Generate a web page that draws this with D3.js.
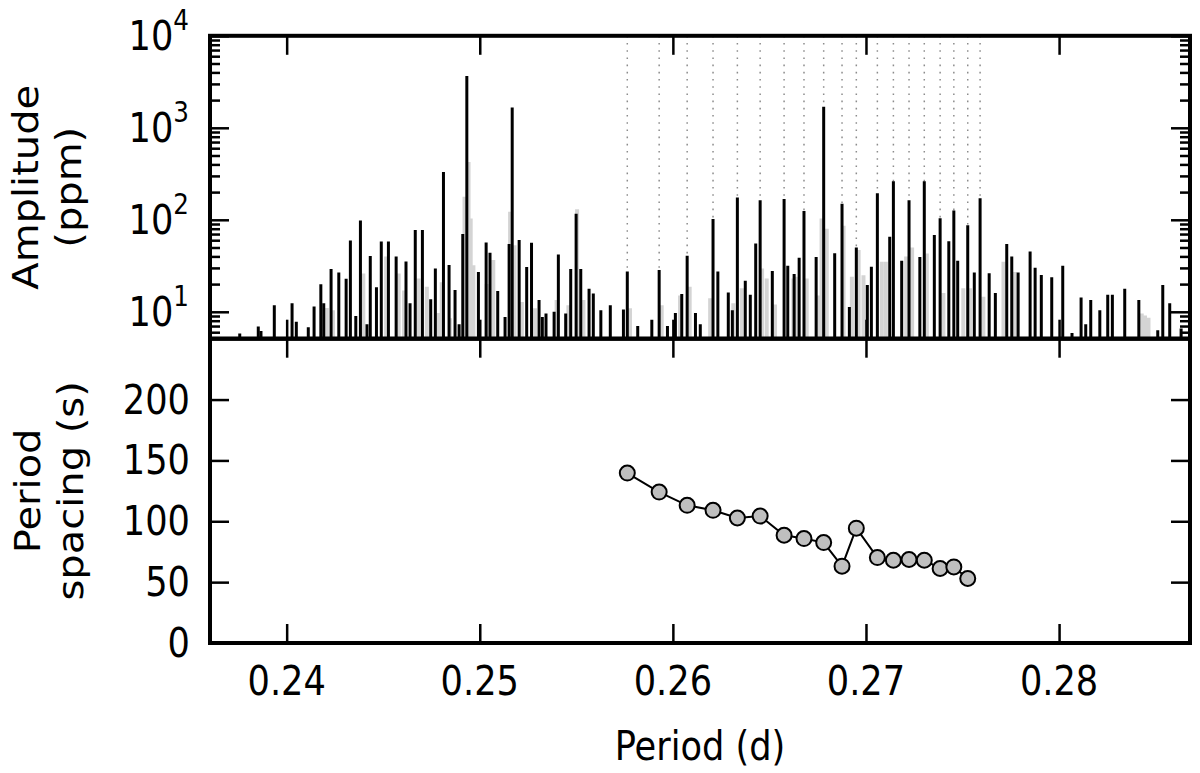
<!DOCTYPE html>
<html lang="en">
<head>
  <meta charset="UTF-8">
  <title>Period spacing pattern</title>
  <script src="https://d3js.org/d3.v7.min.js"></script>
  <style>
    body { margin: 0; background: #ffffff; }
    text { font-family: "DejaVu Sans", sans-serif; fill: #000; }
  </style>
</head>
<body>
  <script>
    // black bars: [period (d), amplitude (ppm)]
    const peakPeriods = [
      0.23757, 0.23853, 0.23867, 0.23936, 0.24028, 0.24050, 0.24112, 0.24142, 0.24177, 0.24192,
      0.24230, 0.24270, 0.24308, 0.24330, 0.24358, 0.24382, 0.24416, 0.24433, 0.24465, 0.24490,
      0.24527, 0.24567, 0.24618, 0.24639, 0.24666, 0.24703, 0.24746, 0.24770, 0.24812, 0.24841,
      0.24872, 0.24893, 0.24912, 0.24933, 0.24993, 0.25033, 0.25053, 0.25093, 0.25131, 0.25152,
      0.25168, 0.25204, 0.25243, 0.25268, 0.25307, 0.25324, 0.25343, 0.25385, 0.25407, 0.25445,
      0.25471, 0.25499, 0.25523, 0.25566, 0.25588, 0.25627, 0.25676, 0.25744, 0.25764, 0.25818,
      0.25891, 0.25929, 0.25972, 0.26013, 0.26046, 0.26074, 0.26117, 0.26142, 0.26208, 0.26233,
      0.26287, 0.26308, 0.26334, 0.26375, 0.26401, 0.26429, 0.26452, 0.26515, 0.26576, 0.26595,
      0.26628, 0.26654, 0.26679, 0.26742, 0.26781, 0.26838, 0.26876, 0.26914, 0.26950, 0.27007,
      0.27028, 0.27059, 0.27123, 0.27142, 0.27185, 0.27223, 0.27279, 0.27302, 0.27354, 0.27384,
      0.27429, 0.27455, 0.27475, 0.27527, 0.27561, 0.27591, 0.27638, 0.27670, 0.27729, 0.27755,
      0.27788, 0.27850, 0.27876, 0.27908, 0.27962, 0.28019, 0.28067, 0.28114, 0.28138, 0.28164,
      0.28211, 0.28252, 0.28276, 0.28340, 0.28413, 0.28511, 0.28537, 0.28573, 0.28632
    ];
    const peakAmps = [
      5.8, 6.9, 6.2, 11.8, 12.4, 7.8, 6.8, 11.4, 19.9, 12.4,
      29.1, 26.8, 22.8, 59.7, 9.0, 98.4, 7.3, 40.3, 18.5, 58.2,
      58.2, 40, 35.3, 12.4, 77.3, 77.3, 13.7, 29.6, 330, 32.2,
      17.3, 7.3, 70, 3650, 27, 56.8, 43.7, 16.8, 8.8, 54.4,
      1667, 60.2, 30.6, 56.2, 13.4, 8.8, 9.6, 10, 42, 9.6,
      29.1, 116, 29.1, 17.8, 15.8, 10.4, 11.8, 10.6, 27.5, 7,
      8.2, 28.4, 7, 9.7, 15.6, 40.6, 9.7, 7.3, 102, 27.5,
      16.2, 10.4, 175, 21.7, 15.3, 55.3, 163, 27.7, 168, 31.6,
      25.7, 38.6, 125, 39.3, 1690, 43.2, 149, 11.3, 50.1, 19.6,
      30.8, 194, 65.3, 263, 35.8, 163, 39.3, 263, 68.2, 104,
      58.6, 126, 35.8, 87, 26.8, 171, 26.3, 16, 54.4, 40,
      26.8, 45.3, 30.1, 25.1, 23.7, 31.6, 5.9, 14.3, 7.3, 13.4,
      10.4, 15.3, 15.3, 17.8, 13.4, 6.3, 19.6, 12.4, 6.6
    ];

    // light grey bars drawn behind
    const greyPeriods = [
      0.24208, 0.24240, 0.24397, 0.24515, 0.24580, 0.24608, 0.24683, 0.24726, 0.24786, 0.24803,
      0.24846, 0.24921, 0.24942, 0.24953, 0.24967, 0.25036, 0.25070, 0.25157, 0.25180, 0.25218,
      0.25286, 0.25398, 0.25459, 0.25504, 0.25537, 0.25778, 0.25942, 0.26037, 0.26087, 0.26193,
      0.26313, 0.26357, 0.26462, 0.26486, 0.26529, 0.26624, 0.26642, 0.26693, 0.26754, 0.26770,
      0.26797, 0.26884, 0.26927, 0.26962, 0.26987, 0.27082, 0.27103, 0.27208, 0.27239, 0.27315,
      0.27401, 0.27504, 0.27539, 0.27608, 0.27712, 0.27772, 0.28428, 0.28445, 0.28463
    ];
    const greyAmps = [
      11, 10.4, 26, 40, 26, 17, 23, 18.7, 9.7, 21,
      8.5, 178, 425, 103, 32, 20, 36.5, 122, 53, 12.8,
      10.9, 13.4, 11.8, 130, 13.4, 10.9, 11.8, 15, 18.7, 14,
      12.4, 18, 29.6, 23, 12, 23, 24, 23, 15, 103.6,
      80, 86, 24, 47, 25, 35, 35, 40, 50, 43,
      16, 18, 18, 14.6, 35, 27, 9.6, 9.1, 8.6
    ];

    // periods of the mode series (dotted lines)
    const modePeriods = [
      0.25764, 0.25929, 0.26074, 0.26208, 0.26334, 0.26452, 0.26576, 0.26679, 0.26781, 0.26876,
      0.26950, 0.27059, 0.27142, 0.27223, 0.27302, 0.27384, 0.27455, 0.27527, 0.27591
    ];
    // period spacing (s), plotted at the first period of each pair
    const spacings = [
      139.6, 124.0, 113.1, 109.0, 102.7, 104.3, 88.5, 85.8, 82.5, 63.1,
      94.3, 70.2, 68.0, 68.6, 68.0, 61.2, 62.5, 53.0
    ];

    const xTicks = [0.24, 0.25, 0.26, 0.27, 0.28];
    const ampTicks = [1, 2, 3, 4];          // exponents of 10
    const spTicks = [0, 50, 100, 150, 200];

    const width = 1200, height = 773;
    const left = 210, right = 1190;
    const top1 = 35.8, mid = 338.7, bottom = 643;
    const sx = 0.88; // the figure is a bit squeezed horizontally

    const svg = d3.select("body").append("svg")
      .attr("width", width)
      .attr("height", height)
      .style("background-color", "#ffffff");

    const x = d3.scaleLinear().domain([0.23603, 0.28678]).range([left, right]);
    const yAmp = d3.scaleLog().domain([5.1, 1e4]).range([mid, top1]);
    const ySp = d3.scaleLinear().domain([0, 250]).range([bottom, mid]);

    svg.append("defs").append("clipPath").attr("id", "clipTop")
      .append("rect").attr("x", left).attr("y", top1).attr("width", right - left).attr("height", mid - top1);

    // ---- top panel ----
    const topG = svg.append("g").attr("clip-path", "url(#clipTop)");

    topG.selectAll("line.mode")
      .data(modePeriods)
      .enter().append("line")
      .attr("class", "mode")
      .attr("x1", d => x(d)).attr("x2", d => x(d))
      .attr("y1", top1).attr("y2", mid)
      .attr("stroke", "#8c8c8c")
      .attr("stroke-width", 1.5)
      .attr("stroke-dasharray", "1.6,5.6");

    topG.selectAll("line.grey")
      .data(greyPeriods.map((p, i) => [p, greyAmps[i]]))
      .enter().append("line")
      .attr("class", "grey")
      .attr("x1", d => x(d[0])).attr("x2", d => x(d[0]))
      .attr("y1", d => yAmp(d[1])).attr("y2", mid)
      .attr("stroke", "#d4d4d4")
      .attr("stroke-width", 4);

    topG.selectAll("line.peak")
      .data(peakPeriods.map((p, i) => [p, peakAmps[i]]))
      .enter().append("line")
      .attr("class", "peak")
      .attr("x1", d => x(d[0])).attr("x2", d => x(d[0]))
      .attr("y1", d => yAmp(d[1])).attr("y2", mid)
      .attr("stroke", "#000")
      .attr("stroke-width", 3);

    // ---- bottom panel ----
    const pts = spacings.map((s, i) => [modePeriods[i], s]);
    svg.append("path")
      .datum(pts)
      .attr("fill", "none")
      .attr("stroke", "#000")
      .attr("stroke-width", 2)
      .attr("d", d3.line().x(d => x(d[0])).y(d => ySp(d[1])));

    svg.selectAll("circle.pt")
      .data(pts)
      .enter().append("circle")
      .attr("class", "pt")
      .attr("cx", d => x(d[0]))
      .attr("cy", d => ySp(d[1]))
      .attr("r", 7.5)
      .attr("fill", "#bfbfbf")
      .attr("stroke", "#000")
      .attr("stroke-width", 2);

    // ---- ticks (all pointing inward) ----
    function ticks(g) {
      g.select(".domain").remove();
      g.selectAll(".tick text").remove();
      g.selectAll(".tick line").attr("stroke", "#000").attr("stroke-width", 2.5);
    }
    const major = 19, minor = 10;
    const ampMajor = ampTicks.map(e => Math.pow(10, e));
    const ampMinor = [];
    for (let e = 0; e < 4; e++) {
      for (let k = 2; k < 10; k++) {
        const v = k * Math.pow(10, e);
        if (v > 5.1) ampMinor.push(v);
      }
    }

    svg.append("g").attr("transform", `translate(${left},0)`)
      .call(d3.axisLeft(yAmp).tickValues(ampMajor).tickSize(-major)).call(ticks);
    svg.append("g").attr("transform", `translate(${left},0)`)
      .call(d3.axisLeft(yAmp).tickValues(ampMinor).tickSize(-minor)).call(ticks);
    svg.append("g").attr("transform", `translate(${right},0)`)
      .call(d3.axisRight(yAmp).tickValues(ampMajor).tickSize(-major)).call(ticks);
    svg.append("g").attr("transform", `translate(${right},0)`)
      .call(d3.axisRight(yAmp).tickValues(ampMinor).tickSize(-minor)).call(ticks);

    svg.append("g").attr("transform", `translate(${left},0)`)
      .call(d3.axisLeft(ySp).tickValues([50, 100, 150, 200]).tickSize(-major)).call(ticks);
    svg.append("g").attr("transform", `translate(${right},0)`)
      .call(d3.axisRight(ySp).tickValues([50, 100, 150, 200]).tickSize(-major)).call(ticks);

    [[top1, d3.axisTop], [mid, d3.axisBottom], [mid, d3.axisTop], [bottom, d3.axisBottom]].forEach(([yy, ax], i) => {
      // top/bottom edges of each panel
      const inward = (i % 2 === 0) ? d3.axisTop : d3.axisBottom;
      svg.append("g").attr("transform", `translate(0,${yy})`)
        .call(inward(x).tickValues(xTicks).tickSize(-major)).call(ticks);
    });

    // frames
    [[top1, mid], [mid, bottom]].forEach(([a, b]) => {
      svg.append("rect")
        .attr("x", left).attr("y", a)
        .attr("width", right - left).attr("height", b - a)
        .attr("fill", "none")
        .attr("stroke", "#000")
        .attr("stroke-width", 4);
    });

    // ---- text ----
    function label(txt, px, py, anchor, rot) {
      const t = svg.append("text")
        .attr("transform", `translate(${px},${py}) scale(${sx},1)` + (rot ? " rotate(-90)" : ""))
        .attr("text-anchor", anchor)
        .style("font-size", "40px")
        .text(txt);
      return t;
    }

    xTicks.forEach(v => label(d3.format(".2f")(v), x(v), 695, "middle"));
    spTicks.forEach(v => label(String(v), 190 / sx * sx, ySp(v) + 14, "end"));

    ampTicks.forEach(e => {
      const t = svg.append("text")
        .attr("transform", `translate(189,${yAmp(Math.pow(10, e)) + 14}) scale(${sx},1)`)
        .attr("text-anchor", "end")
        .style("font-size", "40px");
      t.append("tspan").text("10");
      t.append("tspan").attr("dy", -20).style("font-size", "28px").text(e);
    });

    label("Period (d)", (left + right) / 2, 760, "middle");

    const cTop = (top1 + mid) / 2, cBot = (mid + bottom) / 2;
    label("Amplitude", 38, cTop, "middle", true);
    label("(ppm)", 81, cTop, "middle", true);
    label("Period", 40, cBot, "middle", true);
    label("spacing (s)", 83, cBot, "middle", true);
  </script>
</body>
</html>
